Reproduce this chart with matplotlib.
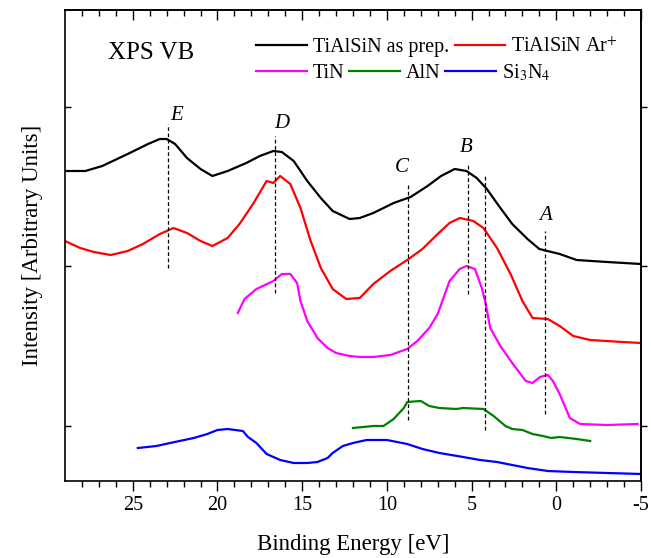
import matplotlib
matplotlib.use('Agg')
import matplotlib.pyplot as plt
import numpy as np

plt.rcParams['font.family'] = ['Liberation Serif', 'DejaVu Serif']
plt.rcParams['mathtext.fontset'] = 'stix'
plt.rcParams['axes.unicode_minus'] = False

# binding energy [eV] and intensity [arb. units]
e_prep = [29.0, 27.8, 26.8, 25.3, 24.1, 23.4, 23.0, 22.5, 21.8, 21.0, 20.3, 19.4, 18.3,
          17.5, 16.7, 16.2, 15.5, 14.7, 13.9, 13.2, 12.2, 11.6, 10.8, 9.6, 8.6, 7.6,
          6.8, 6.0, 5.3, 4.7, 4.1, 3.3, 2.6, 1.7, 1.0, -0.2, -1.2, -3.0, -5.0]
i_prep = [310, 310, 315, 327, 337, 342, 342, 337, 323, 312, 305, 310, 318,
          325, 330, 329, 320, 300, 283, 270, 262, 263, 268, 278, 284, 295,
          305, 312, 310, 303, 292, 273, 257, 242, 232, 227, 221, 219, 217]

e_ar = [29.0, 28.1, 27.3, 26.3, 25.3, 24.4, 23.4, 22.6, 21.8, 21.0, 20.3, 19.4, 18.7,
        17.9, 17.1, 16.7, 16.3, 15.7, 15.1, 14.5, 13.9, 13.2, 12.4, 11.6, 10.8, 9.8,
        8.8, 7.9, 7.0, 6.3, 5.7, 4.9, 4.3, 3.5, 2.7, 2.0, 1.4, 0.5, -0.2, -1.0,
        -2.0, -3.9, -5.0]
i_ar = [240, 233, 229, 226, 230, 237, 247, 253, 248, 240, 235, 243, 257,
        277, 300, 298, 305, 297, 273, 240, 213, 192, 182, 183, 197, 210,
        221, 232, 247, 258, 263, 260, 253, 233, 207, 180, 163, 162, 155, 145,
        141, 139, 138]

e_tin = [18.8, 18.4, 17.7, 16.7, 16.2, 15.7, 15.3, 15.1, 14.7, 14.1, 13.5, 13.0, 12.2,
         11.6, 10.8, 9.8, 8.8, 8.2, 7.5, 7.0, 6.3, 5.7, 5.3, 4.8, 4.4, 4.2, 3.9, 3.3,
         2.6, 1.8, 1.4, 0.96, 0.5, 0.2, -0.2, -0.8, -1.4, -3.0, -4.8]
i_tin = [168, 182, 192, 200, 207, 207, 198, 180, 160, 143, 133, 128, 125,
         124, 124, 126, 132, 140, 153, 167, 200, 212, 215, 212, 193, 180, 153, 135,
         118, 100, 98, 104, 106, 100, 87, 63, 57, 56, 57]

e_aln = [12.0, 10.8, 10.2, 9.6, 9.0, 8.8, 8.0, 7.5, 6.9, 5.9, 5.5, 4.3, 3.7, 3.0,
         2.6, 2.0, 1.4, 0.8, 0.3, -0.2, -0.7, -1.2, -2.0]
i_aln = [53, 55, 55, 62, 73, 79, 80, 75, 73, 72, 73, 72, 65, 55,
         52, 51, 47, 45, 43, 44, 43, 42, 40]

e_si3n4 = [24.7, 23.6, 22.8, 21.4, 20.6, 20.0, 19.4, 18.5, 18.2, 17.7, 17.1, 16.3, 15.5,
           14.7, 14.1, 13.5, 13.2, 12.6, 12.0, 11.2, 10.0, 8.8, 7.9, 6.9, 5.5, 4.5,
           3.5, 2.9, 1.7, 0.5, -1.0, -3.0, -5.0]
i_si3n4 = [33, 35, 38, 43, 47, 51, 52, 50, 44, 38, 27, 21, 18,
           18, 19, 23, 28, 35, 38, 41, 41, 37, 32, 28, 24, 21,
           19, 17, 13, 10, 9, 8, 7]

# dashed marker lines: label, position [eV], bottom, top, label height
mark_labels = ['E', 'D', 'C', 'B', '', 'A']
mark_pos = [22.9, 16.6, 8.75, 5.2, 4.2, 0.66]
mark_lo = [213, 188, 61, 187, 51, 67]
mark_hi = [357, 345, 297, 317, 305, 250]
label_y = [365, 358, 313, 333, 0, 265]
label_x = [22.4, 16.2, 9.1, 5.3, 0, 0.66]

fig = plt.figure(figsize=(6.51, 5.58), dpi=100)
ax = fig.add_axes([65 / 651, 1 - 481 / 558, 576 / 651, 471 / 558])

ax.plot(e_prep, i_prep, color='black', lw=1.6, label='TiAlSiN as prep.')
ax.plot(e_ar, i_ar, color='red', lw=1.6, label='TiAlSiN Ar$^{+}$')
ax.plot(e_tin, i_tin, color='magenta', lw=1.6, label='TiN')
ax.plot(e_aln, i_aln, color='green', lw=1.6, label='AlN')
ax.plot(e_si3n4, i_si3n4, color='blue', lw=1.6, label='Si$_3$N$_4$')

ax.vlines(mark_pos, mark_lo, mark_hi, colors='black', linestyles=(0, (3, 2)), lw=0.9)
for lab, x, y in zip(mark_labels, label_x, label_y):
    if lab:
        ax.text(x, y, lab, fontsize=15, style='italic', ha='center', va='center')

ax.set_xlim(29, -5)
ax.set_ylim(0, 471)
ax.set_xticks([25, 20, 15, 10, 5, 0, -5])
ax.set_xticks(np.arange(28, -6, -1), minor=True)
ax.set_yticks([55, 215, 374])
ax.set_yticklabels([])
ax.tick_params(axis='x', which='major', direction='out', length=7, width=1, labelsize=14.5, top=False)
ax.tick_params(axis='x', which='minor', direction='out', length=4, width=1, top=False)
ax.tick_params(axis='y', which='major', direction='in', length=4, width=1, right=False)

top = ax.secondary_xaxis('top')
top.set_xticks([25, 20, 15, 10, 5, 0, -5])
top.set_xticks(np.arange(28, -6, -1), minor=True)
top.tick_params(which='major', direction='in', length=7, width=1, labeltop=False)
top.tick_params(which='minor', direction='in', length=4, width=1)
right = ax.secondary_yaxis('right')
right.set_yticks([55, 215, 374])
right.tick_params(direction='out', length=4, width=1, labelright=False)

for s in ax.spines.values():
    s.set_linewidth(1.2)
top.spines['top'].set_linewidth(1.2)
right.spines['right'].set_linewidth(1.2)

ax.set_xlabel('Binding Energy [eV]', fontsize=16.5, labelpad=14)
ax.set_ylabel('Intensity [Arbitrary Units]', fontsize=16.5, labelpad=12)

ax.text(0.074, 0.909, 'XPS VB', transform=ax.transAxes, fontsize=18, va='center')

h, l = ax.get_legend_handles_labels()
leg_kw = dict(loc='center left', frameon=False, fontsize=14.5, handlelength=2.5,
              handletextpad=0.3, borderaxespad=0, borderpad=0)
leg1 = ax.legend(h[:2], l[:2], bbox_to_anchor=(0.332, 0.921), ncol=2,
                 columnspacing=0.3, **leg_kw)
ax.add_artist(leg1)
ax.legend(h[2:], l[2:], bbox_to_anchor=(0.332, 0.866), ncol=3,
          columnspacing=0.25, **leg_kw)

fig.savefig('out.png', dpi=100)
